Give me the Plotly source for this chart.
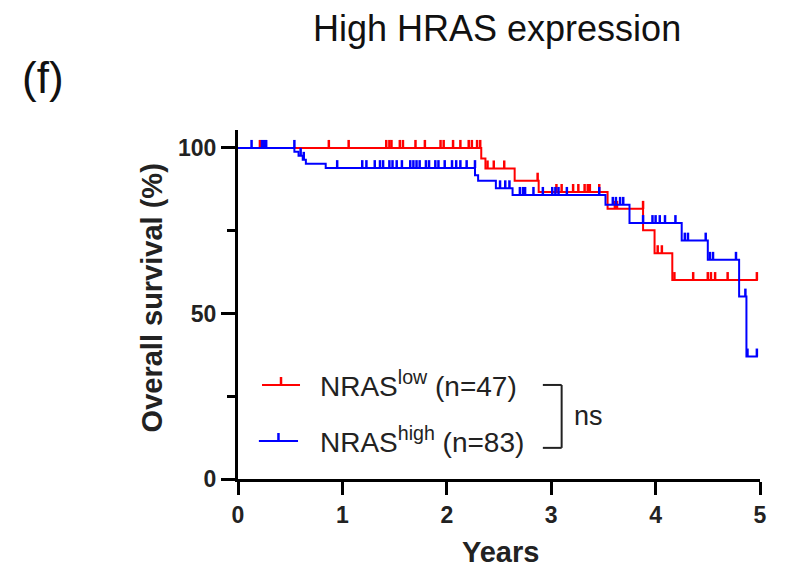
import plotly.graph_objects as go

# ---------------- data ----------------
red_event_years = [0, 2.33, 2.37, 2.65, 2.88, 3.54, 3.88, 3.99, 4.16, 4.98]
red_survival = [100, 96.8, 93.8, 90.1, 86.7, 81.6, 75.1, 68.2, 60.1, 60.1]
red_censored_years = [0.21, 0.87, 1.06, 1.42, 1.45, 1.47, 1.55, 1.58, 1.70, 1.79,
                      1.94, 1.97, 2.06, 2.13, 2.21, 2.24, 2.29, 2.32, 2.39, 2.45,
                      2.55, 2.87, 3.05, 3.10, 3.21, 3.26, 3.32, 3.35, 3.37, 3.46,
                      3.61, 3.63, 3.88, 4.02, 4.06, 4.18, 4.36, 4.50, 4.53, 4.57,
                      4.69, 4.97]

blue_event_years = [0, 0.54, 0.58, 0.62, 0.65, 0.84, 2.27, 2.30, 2.47, 2.63,
                    3.52, 3.75, 4.25, 4.50, 4.80, 4.87, 4.98]
blue_survival = [100, 98.8, 97.6, 96.4, 95.2, 93.9, 91.7, 90.1, 87.8, 85.8,
                 82.8, 77.3, 72.0, 66.2, 55.1, 37.0, 37.0]
blue_censored_years = [0.13, 0.23, 0.25, 0.27, 0.54, 0.60, 0.63, 0.95, 1.19, 1.23,
                       1.31, 1.36, 1.39, 1.45, 1.48, 1.52, 1.57, 1.65, 1.68, 1.71,
                       1.74, 1.80, 1.83, 1.89, 1.92, 1.98, 2.05, 2.09, 2.13, 2.19,
                       2.27, 2.51, 2.56, 2.60, 2.70, 2.73, 2.75, 2.83, 2.92, 3.01,
                       3.04, 3.07, 3.15, 3.46, 3.59, 3.62, 3.66, 3.69, 3.88, 3.97,
                       4.00, 4.04, 4.09, 4.19, 4.28, 4.31, 4.48, 4.52, 4.55, 4.77,
                       4.86, 4.88, 4.97]

group_names = ["NRAS<sup>low</sup> (n=47)", "NRAS<sup>high</sup> (n=83)"]
x_tick_values = [0, 1, 2, 3, 4, 5]
y_tick_values = [0, 50, 100]
y_minor_values = [25, 75]

RED = "#FF0000"
BLUE = "#0000FF"
FONT = "Liberation Sans, Arial, sans-serif"
TICK_H = 2.4  # censor tick height in % units


def survival_at(t, times, surv):
    s = surv[0]
    for ti, si in zip(times, surv):
        if ti < t:
            s = si
    return s


def censor_segments(ctimes, times, surv):
    xs, ys = [], []
    for t in ctimes:
        s = survival_at(t, times, surv)
        xs += [t, t, None]
        ys += [s, s + TICK_H, None]
    return xs, ys


fig = go.Figure()
for times, surv, ctimes, color in [
    (red_event_years, red_survival, red_censored_years, RED),
    (blue_event_years, blue_survival, blue_censored_years, BLUE),
]:
    fig.add_trace(go.Scatter(x=times, y=surv, mode="lines", line_shape="hv",
                             line=dict(color=color, width=2), showlegend=False,
                             hoverinfo="skip"))
    cx, cy = censor_segments(ctimes, times, surv)
    fig.add_trace(go.Scatter(x=cx, y=cy, mode="lines",
                             line=dict(color=color, width=2.5), showlegend=False,
                             hoverinfo="skip"))

# ---------------- manual legend ----------------
shapes = []
annotations = []
legend_rows = [(RED, 28.4, 0.23, 0.594), (BLUE, 11.5, 0.20, 0.575)]
for (color, yy, x0, x1), name in zip(legend_rows, group_names):
    shapes.append(dict(type="line", xref="x", yref="y", x0=x0, x1=x1, y0=yy, y1=yy,
                       line=dict(color=color, width=2)))
    xm = (x0 + x1) / 2
    shapes.append(dict(type="line", xref="x", yref="y", x0=xm, x1=xm, y0=yy,
                       y1=yy + TICK_H, line=dict(color=color, width=2.5)))
    annotations.append(dict(x=0.77, y=yy + 0.3, xref="x", yref="y", xanchor="left",
                            yanchor="middle", text=name, showarrow=False,
                            font=dict(family=FONT, size=28, color="#222222")))

# bracket + ns
for (x0, y0, x1, y1) in [(2.92, 28.4, 3.10, 28.4), (3.10, 28.4, 3.10, 9.4),
                         (2.92, 9.4, 3.10, 9.4)]:
    shapes.append(dict(type="line", xref="x", yref="y", x0=x0, y0=y0, x1=x1, y1=y1,
                       line=dict(color="#222222", width=2)))
annotations.append(dict(x=3.2, y=19.0, xref="x", yref="y", xanchor="left",
                        yanchor="middle", text="ns", showarrow=False,
                        font=dict(family=FONT, size=27, color="#222222")))

# titles
annotations.append(dict(x=0.496, y=1.29, xref="paper", yref="paper", xanchor="center",
                        yanchor="middle", text="High HRAS expression", showarrow=False,
                        font=dict(family=FONT, size=36, color="#111111")))
annotations.append(dict(x=-0.418, y=1.15, xref="paper", yref="paper", xanchor="left",
                        yanchor="middle", text="(f)", showarrow=False,
                        font=dict(family=FONT, size=44, color="#111111")))
annotations.append(dict(x=-0.165, y=0.52, xref="paper", yref="paper", xanchor="center",
                        yanchor="middle", text="<b>Overall survival (%)</b>", textangle=-90,
                        showarrow=False, font=dict(family=FONT, size=29, color="#222222")))
annotations.append(dict(x=0.502, y=-0.21, xref="paper", yref="paper", xanchor="center",
                        yanchor="middle", text="<b>Years</b>", showarrow=False,
                        font=dict(family=FONT, size=29, color="#222222")))

fig.update_layout(
    width=792, height=568,
    margin=dict(l=238, r=32, t=130, b=89),
    paper_bgcolor="white", plot_bgcolor="white",
    shapes=shapes, annotations=annotations,
    showlegend=False,
    xaxis=dict(range=[0, 5], tickvals=x_tick_values, showline=True, linecolor="black",
               linewidth=3, ticks="outside", ticklen=13, tickwidth=2.5, tickcolor="black",
               showgrid=False, zeroline=False,
               tickfont=dict(family=FONT, size=23, color="#222222", weight="bold")),
    yaxis=dict(range=[0, 105.4], tickvals=y_tick_values, showline=True, linecolor="black",
               linewidth=3, ticks="outside", ticklen=14, tickwidth=2.5, tickcolor="black",
               showgrid=False, zeroline=False,
               tickfont=dict(family=FONT, size=23, color="#222222", weight="bold"),
               minor=dict(tickvals=y_minor_values, ticks="outside", ticklen=8,
                          tickwidth=2.5, tickcolor="black", showgrid=False)),
)

fig.write_html("out.html")
